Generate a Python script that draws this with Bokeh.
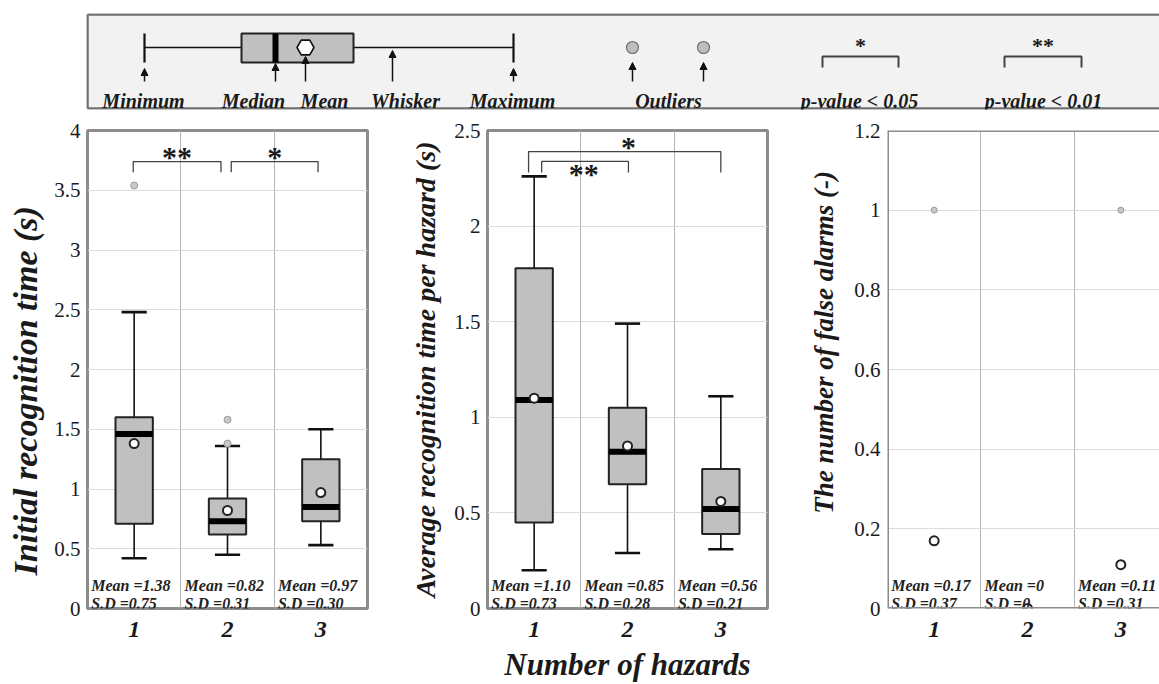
from bokeh.plotting import figure
from bokeh.layouts import column, row
from bokeh.models import Range1d, FixedTicker, Span, Arrow, NormalHead
from bokeh.core.properties import value
from bokeh.embed import file_html
from bokeh.resources import INLINE

# ---------------- data ----------------
hazards = ["1", "2", "3"]
xpos = [1, 2, 3]

# Panel 1: Initial recognition time (s)
p1_whislo = [0.42, 0.45, 0.53]
p1_q1 = [0.71, 0.62, 0.73]
p1_med = [1.46, 0.73, 0.85]
p1_q3 = [1.60, 0.92, 1.25]
p1_whishi = [2.48, 1.36, 1.50]
p1_mean = [1.38, 0.82, 0.97]
p1_sd = [0.75, 0.31, 0.30]
p1_out_x = [1, 2, 2]
p1_out_y = [3.54, 1.58, 1.38]
p1_yticks = [0, 0.5, 1, 1.5, 2, 2.5, 3, 3.5, 4]
p1_ylabels = ["0", "0.5", "1", "1.5", "2", "2.5", "3", "3.5", "4"]
# significance brackets: compared groups, marks, bracket top / leg bottom
p1_sig_from = [0.99, 2.04]
p1_sig_to = [1.93, 2.97]
p1_sig_marks = ["**", "*"]
p1_sig_top = [3.74, 3.74]
p1_sig_bottom = [3.65, 3.65]

# Panel 2: Average recognition time per hazard (s)
p2_whislo = [0.20, 0.29, 0.31]
p2_q1 = [0.45, 0.65, 0.39]
p2_med = [1.09, 0.82, 0.52]
p2_q3 = [1.78, 1.05, 0.73]
p2_whishi = [2.26, 1.49, 1.11]
p2_mean = [1.10, 0.85, 0.56]
p2_sd = [0.73, 0.28, 0.21]
p2_yticks = [0, 0.5, 1, 1.5, 2, 2.5]
p2_ylabels = ["0", "0.5", "1", "1.5", "2", "2.5"]
p2_sig_from = [0.94, 1.08]
p2_sig_to = [3.0, 2.01]
p2_sig_marks = ["*", "**"]
p2_sig_top = [2.39, 2.338]
p2_sig_bottom = [2.28, 2.28]

# Panel 3: The number of false alarms (-)
p3_mean = [0.17, 0.0, 0.11]
p3_sd = [0.37, 0.0, 0.31]
p3_out_x = [1, 3]
p3_out_y = [1.0, 1.0]
p3_yticks = [0, 0.2, 0.4, 0.6, 0.8, 1.0, 1.2]
p3_ylabels = ["0", "0.2", "0.4", "0.6", "0.8", "1", "1.2"]

x_title = "Number of hazards"

# ---------------- style ----------------
SERIF = "Liberation Serif"
TXT = "#1a1a1a"
FRAME = "#8c8c8c"
BOX_FILL = "#c0c0c0"
OUT_FILL = "#c8c8c8"
OUT_LINE = "#999999"
FRAME_W, FRAME_H = 280, 478
ROW_H = 566
TOP, BOTTOM = 12, 76
NBSP = "\u00a0"


def fmt(v):
    return "0" if v == 0 else f"{v:.2f}"


def base_fig(width, left, yrange, yticks, ylabels, ylabel, ylabel_size,
             label_standoff, frame_w=FRAME_W, xlabel=None):
    right = width - left - frame_w
    p = figure(width=width, height=ROW_H,
               x_range=Range1d(0.5, 0.5 + 3 * frame_w / FRAME_W),
               y_range=Range1d(0, yrange), toolbar_location=None,
               output_backend="svg", min_border_left=left,
               min_border_right=right, min_border_top=TOP,
               min_border_bottom=BOTTOM)
    p.background_fill_color = "white"
    p.border_fill_color = "white"
    p.outline_line_color = FRAME
    p.outline_line_width = 3
    # grids
    p.ygrid.ticker = FixedTicker(ticks=yticks)
    p.ygrid.grid_line_color = "#dcdcdc"
    p.ygrid.grid_line_width = 1
    p.xgrid.ticker = FixedTicker(ticks=[1.5, 2.5])
    p.xgrid.grid_line_color = "#b4b4b4"
    p.xgrid.grid_line_width = 1
    # x axis
    p.xaxis.ticker = FixedTicker(ticks=xpos)
    p.xaxis.major_label_overrides = {x: h for x, h in zip(xpos, hazards)}
    p.xaxis.major_label_text_font = SERIF
    p.xaxis.major_label_text_font_style = "bold italic"
    p.xaxis.major_label_text_font_size = "24px"
    p.xaxis.major_label_text_color = TXT
    p.xaxis.major_label_standoff = 13
    if xlabel:
        p.xaxis.axis_label = xlabel
        p.xaxis.axis_label_text_font = SERIF
        p.xaxis.axis_label_text_font_style = "bold italic"
        p.xaxis.axis_label_text_font_size = "31px"
        p.xaxis.axis_label_text_color = TXT
        p.xaxis.axis_label_standoff = 7
    # y axis
    p.yaxis.ticker = FixedTicker(ticks=yticks)
    p.yaxis.major_label_overrides = {t: l for t, l in zip(yticks, ylabels)}
    p.yaxis.major_label_text_font = SERIF
    p.yaxis.major_label_text_font_size = "21px"
    p.yaxis.major_label_text_color = TXT
    p.yaxis.major_label_standoff = 7
    p.yaxis.axis_label = ylabel
    p.yaxis.axis_label_text_font = SERIF
    p.yaxis.axis_label_text_font_style = "bold italic"
    p.yaxis.axis_label_text_font_size = ylabel_size
    p.yaxis.axis_label_text_color = TXT
    p.yaxis.axis_label_standoff = label_standoff
    for ax in (p.xaxis, p.yaxis):
        ax.axis_line_color = None
        ax.major_tick_line_color = None
        ax.minor_tick_line_color = None
        ax.major_tick_out = 0
        ax.major_tick_in = 0
        ax.minor_tick_out = 0
        ax.minor_tick_in = 0
    return p


def draw_boxes(p, lo, q1, med, q3, hi, mean):
    cap = 0.135
    p.segment(xpos, q3, xpos, hi, line_color="#111111", line_width=1.6)
    p.segment(xpos, lo, xpos, q1, line_color="#111111", line_width=1.6)
    p.segment([x - cap for x in xpos], hi, [x + cap for x in xpos], hi,
              line_color="#111111", line_width=2.6)
    p.segment([x - cap for x in xpos], lo, [x + cap for x in xpos], lo,
              line_color="#111111", line_width=2.6)
    p.vbar(x=xpos, bottom=q1, top=q3, width=0.40, fill_color=BOX_FILL,
           line_color="#222222", line_width=2)
    p.rect(x=xpos, y=med, width=0.40, height=6, height_units="screen",
           fill_color="black", line_color=None)
    p.scatter(xpos, mean, marker="circle", size=9, fill_color="white",
              line_color="#222222", line_width=2)


def draw_stats(p, mean, sd):
    xs = [x - 0.46 for x in xpos]
    style = dict(text_font=value(SERIF), text_font_style="bold italic",
                 text_font_size="16px", text_color="#222222",
                 text_baseline="alphabetic", text_align="left")
    p.text(xs, [0] * 3, text=[f"Mean ={fmt(m)}" for m in mean], y_offset=-23,
           **style)
    p.text(xs, [0] * 3, text=[f"S.D ={fmt(s)}" for s in sd], y_offset=-5,
           **style)


def draw_sig(p, x0, x1, marks, top, bottom, mark_x=None, below=()):
    p.multi_line([[a, a, b, b] for a, b in zip(x0, x1)],
                 [[lo, hi, hi, lo] for hi, lo in zip(top, bottom)],
                 line_color="#444444", line_width=1.3)
    for i, (a, b, m, hi) in enumerate(zip(x0, x1, marks, top)):
        xc = (a + b) / 2 if mark_x is None else mark_x[i]
        p.text([xc], [hi], text=[m], text_align="center",
               text_baseline="alphabetic",
               y_offset=(12 if i in below else -5),
               text_font=value(SERIF), text_font_style="bold",
               text_font_size="30px", text_color=TXT)


# ---------------- panel 1 ----------------
p1 = base_fig(400, 87, 4, p1_yticks, p1_ylabels,
              "Initial recognition time (s)" + NBSP * 5, "34px", 7)
draw_boxes(p1, p1_whislo, p1_q1, p1_med, p1_q3, p1_whishi, p1_mean)
p1.scatter(p1_out_x, p1_out_y, marker="circle", size=7, fill_color=OUT_FILL,
           line_color=OUT_LINE, line_width=1)
draw_stats(p1, p1_mean, p1_sd)
draw_sig(p1, p1_sig_from, p1_sig_to, p1_sig_marks, p1_sig_top, p1_sig_bottom)

# ---------------- panel 2 ----------------
p2 = base_fig(400, 87, 2.5, p2_yticks, p2_ylabels,
              "Average recognition time per hazard (s)", "28px", 10,
              xlabel=x_title)
draw_boxes(p2, p2_whislo, p2_q1, p2_med, p2_q3, p2_whishi, p2_mean)
draw_stats(p2, p2_mean, p2_sd)
draw_sig(p2, p2_sig_from, p2_sig_to, p2_sig_marks, p2_sig_top, p2_sig_bottom,
         mark_x=[2.01, 1.53], below=(1,))

# ---------------- panel 3 ----------------
p3 = base_fig(359, 87, 1.2, p3_yticks, p3_ylabels,
              NBSP * 8 + "The number of false alarms (-)", "27px", 12,
              frame_w=272)
p3.outline_line_color = None
for loc, dim in ((0.5, "height"), (0, "width"), (1.2, "width")):
    p3.add_layout(Span(location=loc, dimension=dim, line_color=FRAME,
                       line_width=3))
p3.scatter(p3_out_x, p3_out_y, marker="circle", size=6, fill_color=OUT_FILL,
           line_color=OUT_LINE, line_width=1)
p3.scatter(xpos, p3_mean, marker="circle", size=9, fill_color="white",
           line_color="#222222", line_width=2)
draw_stats(p3, p3_mean, p3_sd)

# ---------------- legend (key) ----------------
K_LEFT, K_RIGHT, K_TOP, K_BOT = 86, 1159, 13, 109
leg = figure(width=1159, height=118, x_range=Range1d(K_LEFT, K_RIGHT),
             y_range=Range1d(K_BOT, K_TOP), toolbar_location=None,
             output_backend="svg", min_border_left=86, min_border_right=0,
             min_border_top=13, min_border_bottom=9)
leg.axis.visible = False
leg.grid.visible = False
leg.outline_line_color = None
leg.background_fill_color = "white"
leg.border_fill_color = "white"
leg.quad(left=[K_LEFT], right=[K_RIGHT], top=[K_TOP], bottom=[K_BOT],
         fill_color="#f2f2f2", line_color=None)
leg.segment([K_LEFT + 1, K_LEFT + 1, K_LEFT + 1],
            [K_TOP + 1, K_TOP + 1, K_BOT - 1],
            [K_LEFT + 1, K_RIGHT, K_RIGHT],
            [K_BOT - 1, K_TOP + 1, K_BOT - 1],
            line_color="#6e6e6e", line_width=2.5)

k_y, k_top, k_bot = 47, 33, 62
k_min, k_q1, k_med, k_mean, k_q3, k_max = 144, 241, 275, 305, 353, 513
leg.segment([k_min, k_q3], [k_y, k_y], [k_q1, k_max], [k_y, k_y],
            line_color="#111111", line_width=1.5)
leg.segment([k_min, k_max], [k_top, k_top], [k_min, k_max], [k_bot, k_bot],
            line_color="#111111", line_width=2.2)
leg.quad(left=[k_q1], right=[k_q3], top=[k_top], bottom=[k_bot],
         fill_color=BOX_FILL, line_color="#222222", line_width=2)
leg.rect(x=[k_med], y=[(k_top + k_bot) / 2], width=6, height=k_bot - k_top,
         width_units="screen", fill_color="black", line_color=None)
leg.scatter([k_mean], [k_y], marker="hex", size=17, fill_color="white",
            line_color="#111111", line_width=1.6)
k_out = [632, 703]
leg.scatter(k_out, [k_y, k_y], marker="circle", size=12, fill_color="#bdbdbd",
            line_color="#6e6e6e", line_width=1.2)

arrow_x = [144, 275, 305, 392, 513, 632, 703]
arrow_tip = [68, 63, 56, 50, 68, 62, 62]
for ax_, tip in zip(arrow_x, arrow_tip):
    leg.add_layout(Arrow(end=NormalHead(size=7, fill_color="#111111",
                                        line_color="#111111"),
                         x_start=ax_, y_start=81, x_end=ax_, y_end=tip,
                         line_color="#111111", line_width=1.5))

key_labels = ["Minimum", "Median", "Mean", "Whisker", "Maximum", "Outliers",
              "p-value < 0.05", "p-value < 0.01"]
key_label_x = [143, 253, 324, 405, 512, 668, 859, 1043]
leg.text(key_label_x, [100] * len(key_labels), text=key_labels,
         text_align="center", text_baseline="alphabetic",
         text_font=value(SERIF), text_font_style="bold italic",
         text_font_size="20px", text_color=TXT)

k_br = [(822, 898), (1004, 1081)]
k_marks = ["*", "**"]
leg.multi_line([[a, a, b, b] for a, b in k_br],
               [[67, 56, 56, 67] for _ in k_br],
               line_color="#444444", line_width=2)
leg.text([(a + b) / 2 for a, b in k_br], [56, 56], text=k_marks,
         text_align="center", text_baseline="alphabetic", y_offset=-11,
         text_font=value(SERIF), text_font_style="bold",
         text_font_size="22px", text_color=TXT)

layout = column(leg, row(p1, p2, p3, spacing=0), spacing=0)
open("out.html", "w").write(file_html(layout, INLINE))
